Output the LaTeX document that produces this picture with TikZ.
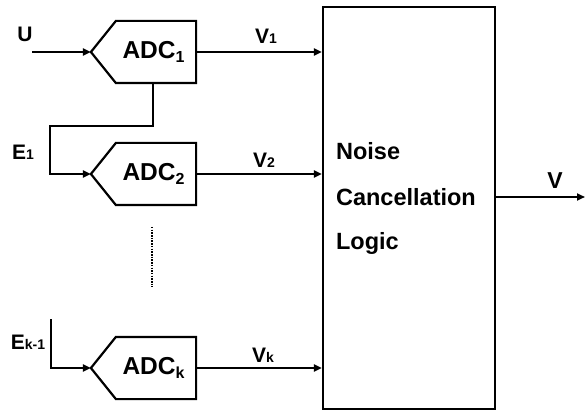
\documentclass[tikz,border=0pt]{standalone}
\usepackage{fontspec}
\setmainfont{Liberation Sans}
\usetikzlibrary{arrows.meta,calc}
\begin{document}
\begin{tikzpicture}[x=1pt,y=-1pt,
  line width=2.2pt,
  arr/.style={-{Triangle[length=8pt,width=7pt]}},
  adcbody/.style={minimum width=78pt,minimum height=60pt,inner sep=0pt,
    font=\bfseries\fontsize{24.5}{26}\selectfont},
  lbl/.style={font=\bfseries\fontsize{21}{22}\selectfont,inner sep=0pt},
  bigtxt/.style={font=\bfseries\fontsize{23.5}{26}\selectfont,inner sep=0pt,anchor=west}]
\useasboundingbox (0,0) rectangle (585,411);
\newcommand{\sm}[1]{{\fontsize{14}{14}\selectfont #1}}
\newcommand{\sbs}[1]{\raisebox{-4pt}{\fontsize{16}{16}\selectfont #1}}
% ADC blocks
\node[adcbody] (a1) at (156,52) {\hspace*{-5pt}ADC\sbs{1}};
\node[adcbody] (a2) at (156,174) {\hspace*{-5pt}ADC\sbs{2}};
\node[adcbody] (a3) at (156,368) {\hspace*{-5pt}ADC\sbs{k}};
\foreach \n in {a1,a2,a3}{
  \coordinate (\n in) at ($(\n.west)+(-25,0)$);
  \draw[line join=miter] (\n.north west) -- (\n.north east) -- (\n.south east)
     -- (\n.south west) -- (\n in) -- cycle;
}
% big block
\node[draw,minimum width=172pt,minimum height=402pt,inner sep=0pt] (ncl) at (409,208) {};
\node[bigtxt] (t1) at (335,151) {Noise};
\node[bigtxt] (t2) at (335,197) {Cancellation};
\node[bigtxt] (t3) at (335,243) {Logic};
% inputs
\coordinate (u) at (32,52);
\draw[arr] (u) -- (a1in);
\coordinate (j1) at (153,126);
\coordinate (j2) at (50,126);
\draw[arr] (a1.south -| j1) -- (j1) -- (j2) |- (a2in);
\coordinate (ek) at (51,319);
\draw[arr] (ek) |- (a3in);
\draw[line width=1.8pt,dash pattern=on 1.5pt off 1.2pt] (152,227) -- (152,287);
% outputs
\draw[arr] (a1.east) -- (a1.east -| ncl.west);
\draw[arr] (a2.east) -- (a2.east -| ncl.west);
\draw[arr] (a3.east) -- (a3.east -| ncl.west);
\coordinate (vout) at (585,197);
\draw[arr] (ncl.east |- vout) -- (vout);
% labels
\node[lbl] (lu) at (25,34) {U};
\node[lbl] (le1) at (23,152) {E\sm{1}};
\node[lbl] (lek) at (28,342) {E\sm{k-1}};
\node[lbl] (lv1) at (266,36) {V\sm{1}};
\node[lbl] (lv2) at (264,160) {V\sm{2}};
\node[lbl] (lvk) at (263,355) {V\sm{k}};
\node[lbl,font=\bfseries\fontsize{23}{24}\selectfont] (lv) at (555,181) {V};
\end{tikzpicture}
\end{document}
